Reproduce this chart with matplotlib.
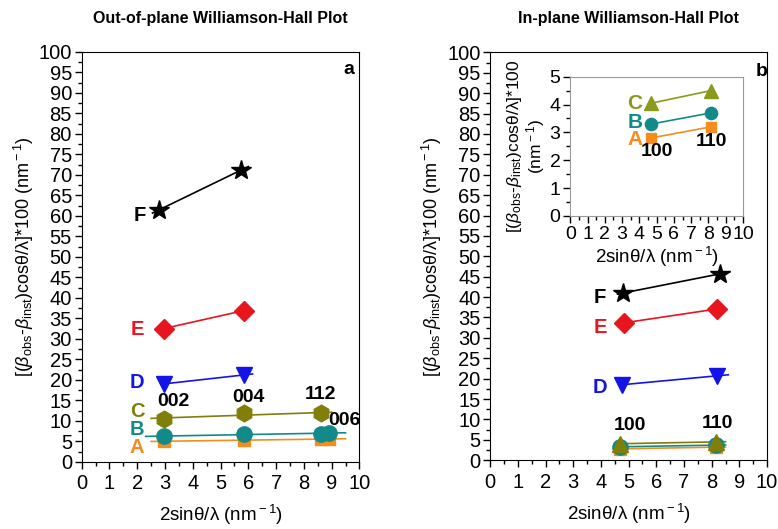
import numpy as np
import matplotlib
matplotlib.use("Agg")
from matplotlib import pyplot as plt
from matplotlib.ticker import MultipleLocator

plt.rcParams["font.family"] = ["Liberation Sans", "DejaVu Sans"]
plt.rcParams["mathtext.fontset"] = "custom"
plt.rcParams["mathtext.rm"] = "Liberation Sans"
plt.rcParams["mathtext.it"] = "Liberation Sans:italic"
plt.rcParams["mathtext.bf"] = "Liberation Sans:bold"

# out-of-plane data (panel a)
series_a = ["A", "B", "C", "D", "E", "F"]
x_a = {
    "A": [2.95, 5.85, 8.6, 8.9],
    "B": [2.95, 5.85, 8.6, 8.9],
    "C": [2.95, 5.85, 8.6],
    "D": [2.95, 5.85],
    "E": [2.95, 5.85],
    "F": [2.8, 5.75],
}
y_a = {
    "A": [5.0, 5.3, 5.5, 5.6],
    "B": [6.2, 6.8, 6.9, 7.0],
    "C": [10.5, 11.8, 11.8],
    "D": [19.0, 21.2],
    "E": [32.5, 36.9],
    "F": [61.5, 71.2],
}
fit_a = {"A": (2.5, 9.5), "B": (2.3, 9.5), "C": (2.5, 9.0),
         "D": (2.95, 6.15), "E": (2.95, 5.85), "F": (2.55, 6.0)}
hkl_a = ["002", "004", "112", "006"]
hkl_a_pos = [(3.3, 14.6), (6.0, 15.8), (8.6, 16.3), (9.45, 10.0)]
lab_a_pos = {"A": (2.0, 3.5), "B": (2.0, 8.0), "C": (2.0, 12.2),
             "D": (2.0, 19.3), "E": (2.0, 32.2), "F": (2.1, 60.2)}

# in-plane data (panel b)
series_b = ["A", "B", "C", "D", "E", "F"]
x_b = {
    "A": [4.7, 8.15],
    "B": [4.7, 8.15],
    "C": [4.7, 8.15],
    "D": [4.75, 8.2],
    "E": [4.85, 8.2],
    "F": [4.8, 8.3],
}
y_b = {
    "A": [2.8, 3.2],
    "B": [3.3, 3.7],
    "C": [4.05, 4.5],
    "D": [18.5, 20.7],
    "E": [33.7, 37.1],
    "F": [41.0, 45.7],
}
fit_b = {"A": (4.5, 8.5), "B": (4.5, 8.5), "C": (4.5, 8.5),
         "D": (4.75, 8.6), "E": (4.85, 8.2), "F": (4.6, 8.65)}
hkl_b = ["100", "110"]
hkl_b_pos = [(5.05, 8.6), (8.2, 9.0)]
lab_b_pos = {"D": (3.97, 17.9), "E": (3.97, 32.6), "F": (3.97, 40.0)}
lab_in_pos = {"A": (3.75, 2.73), "B": (3.75, 3.35), "C": (3.75, 4.05)}
hkl_in_pos = [(5.0, 2.3), (8.2, 2.66)]

colors = {"A": "#f58c1e", "B": "#138a8a", "C": "#7f7f0a",
          "D": "#1414e6", "E": "#e8141e", "F": "black"}
markers_a = {"A": "s", "B": "o", "C": "h", "D": "v", "E": "D", "F": "*"}
markers_b = {"A": "s", "B": "o", "C": "^", "D": "v", "E": "D", "F": "*"}
msize = {"A": 9, "B": 11, "C": 12, "D": 11, "E": 10, "F": 15}

ylab = r"[($\beta_{\rm obs}$-$\beta_{\rm inst}$)cos$\rm\theta$/$\rm\lambda$]*100 (nm$^{\rm -1}$)"
xlab = r"2sin$\rm\theta$/$\rm\lambda$ (nm$^{\rm -1}$)"

fig = plt.figure(figsize=(7.78, 5.29), dpi=100)
ax1 = fig.add_axes([0.105, 0.127, 0.357, 0.775])
ax2 = fig.add_axes([0.630, 0.130, 0.356, 0.771])
ins = fig.add_axes([0.733, 0.592, 0.222, 0.263])


def style(ax, ymax, ymaj, ymin, fs=14.5):
    ax.set_xlim(0, 10)
    ax.set_ylim(0, ymax)
    ax.xaxis.set_major_locator(MultipleLocator(1))
    ax.xaxis.set_minor_locator(MultipleLocator(0.5))
    ax.yaxis.set_major_locator(MultipleLocator(ymaj))
    ax.yaxis.set_minor_locator(MultipleLocator(ymin))
    ax.tick_params(which="both", direction="out", top=False, right=False,
                   labelsize=fs, pad=2)
    ax.tick_params(axis="x", pad=4)
    ax.tick_params(which="major", length=5, width=1)
    ax.tick_params(which="minor", length=3, width=1)


def draw(ax, names, xs, ys, fits, markers, scale=1.0):
    for n in names:
        x = np.array(xs[n])
        y = np.array(ys[n])
        k, b = np.polyfit(x, y, 1)
        xf = np.array(fits[n])
        ax.plot(xf, k * xf + b, color=colors[n], lw=1.2, zorder=2)
        ax.plot(x, y, ls="none", marker=markers[n], ms=msize[n] * scale,
                color=colors[n], zorder=3)


# panel a
style(ax1, 100, 5, 2.5)
draw(ax1, series_a, x_a, y_a, fit_a, markers_a)
for n in series_a:
    ax1.text(*lab_a_pos[n], n, color=colors[n], fontsize=14.5, fontweight="bold",
             ha="center", va="center")
for t, p in zip(hkl_a, hkl_a_pos):
    ax1.text(*p, t, fontsize=14, fontweight="bold", ha="center", va="center")
ax1.text(9.6, 95.6, "a", fontsize=14, fontweight="bold", ha="center", va="center")
ax1.set_ylabel(ylab, fontsize=13, labelpad=2)
ax1.set_xlabel(xlab, fontsize=13.5, labelpad=7)
ax1.set_title("Out-of-plane Williamson-Hall Plot", fontsize=11.5,
              fontweight="bold", pad=21)

# panel b
style(ax2, 100, 5, 2.5)
draw(ax2, series_b, x_b, y_b, fit_b, markers_b)
for n, p in lab_b_pos.items():
    ax2.text(*p, n, color=colors[n], fontsize=14.5, fontweight="bold",
             ha="center", va="center")
for t, p in zip(hkl_b, hkl_b_pos):
    ax2.text(*p, t, fontsize=14, fontweight="bold", ha="center", va="center")
ax2.text(9.8, 95.3, "b", fontsize=14, fontweight="bold", ha="center", va="center")
ax2.set_ylabel(ylab, fontsize=13, labelpad=2)
ax2.set_xlabel(xlab, fontsize=13.5, labelpad=7)
ax2.set_title("In-plane Williamson-Hall Plot", fontsize=11.5,
              fontweight="bold", pad=21)

# inset
style(ins, 5, 1, 0.5, fs=14)
ins.tick_params(axis="x", pad=2)
for s in ins.spines.values():
    s.set_color("#999999")
in_names = ["A", "B", "C"]
for n in in_names:
    ins.plot(x_b[n], y_b[n], color="#8a9a1a" if n == "C" else colors[n],
             marker=markers_b[n], ms=msize[n] * 0.8, lw=1.2)
    ins.text(*lab_in_pos[n], n, color="#8a9a1a" if n == "C" else colors[n],
             fontsize=15, fontweight="bold", ha="center", va="center")
for t, p in zip(hkl_b, hkl_in_pos):
    ins.text(*p, t, fontsize=14, fontweight="bold", ha="center", va="center")
ins.set_ylabel(r"[($\beta_{\rm obs}$-$\beta_{\rm inst}$)cos$\rm\theta$/$\rm\lambda$]*100" + "\n" + r"(nm$^{\rm -1}$)",
               fontsize=12.5, labelpad=2, linespacing=1.0)
ins.set_xlabel(xlab, fontsize=13.5, labelpad=2)

fig.savefig("out.png", dpi=100)
